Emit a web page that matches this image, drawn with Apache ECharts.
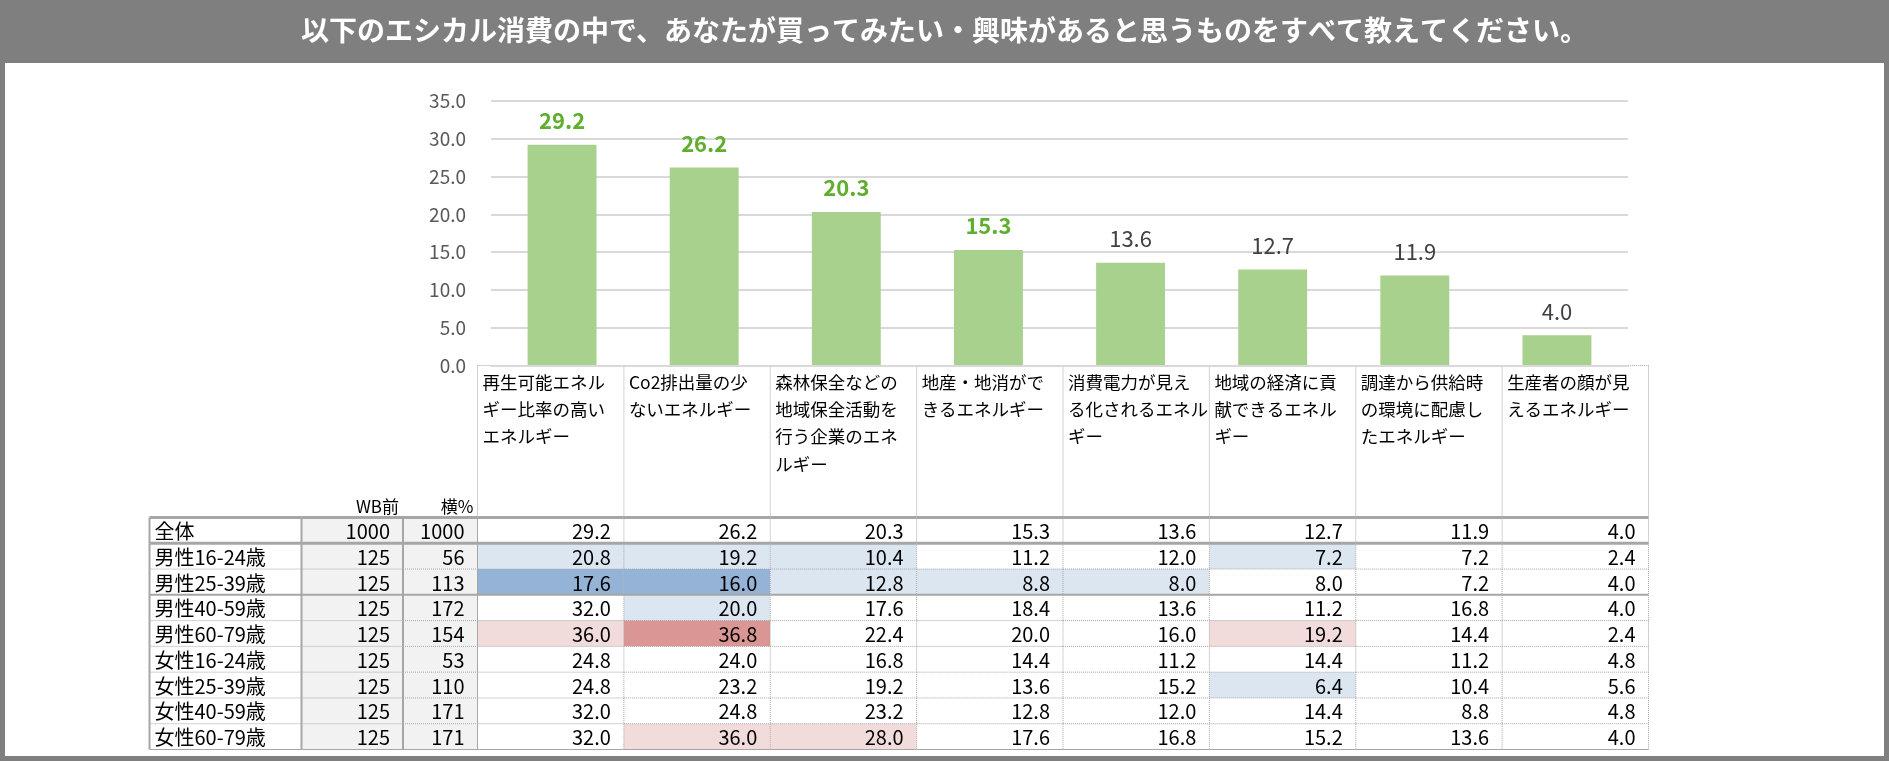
<!DOCTYPE html>
<html>
<head>
<meta charset="utf-8">
<script src="https://cdn.jsdelivr.net/npm/echarts@6/dist/echarts.min.js"></script>
<style>
    html, body { margin: 0; padding: 0; background: #7f7f7f; }
    #chart { width: 1889px; height: 761px; }
</style>
</head>
<body>
<div id="chart"></div>
<script>
const FONT = '"Noto Sans CJK JP", "Noto Sans", sans-serif';

const titleText = '以下のエシカル消費の中で、あなたが買ってみたい・興味があると思うものをすべて教えてください。';

// column headers (line breaks as in the source sheet)
const categories = [
    '再生可能エネル\nギー比率の高い\nエネルギー',
    'Co2排出量の少\nないエネルギー',
    '森林保全などの\n地域保全活動を\n行う企業のエネ\nルギー',
    '地産・地消がで\nきるエネルギー',
    '消費電力が見え\nる化されるエネル\nギー',
    '地域の経済に貢\n献できるエネル\nギー',
    '調達から供給時\nの環境に配慮し\nたエネルギー',
    '生産者の顔が見\nえるエネルギー'
];

// 全体 (also drawn as bars)
const totalValues = [29.2, 26.2, 20.3, 15.3, 13.6, 12.7, 11.9, 4.0];
const topN = 4;

const yTicks = { min: 0, max: 35, interval: 5 };

const rowLabels = [
    '全体', '男性16-24歳', '男性25-39歳', '男性40-59歳', '男性60-79歳',
    '女性16-24歳', '女性25-39歳', '女性40-59歳', '女性60-79歳'
];
const leftHeaders = ['WB前', '横%'];
const wbBase = [1000, 125, 125, 125, 125, 125, 125, 125, 125];
const yokoBase = [1000, 56, 113, 172, 154, 53, 110, 171, 171];

const tableValues = [
    totalValues,
    [20.8, 19.2, 10.4, 11.2, 12.0, 7.2, 7.2, 2.4],
    [17.6, 16.0, 12.8, 8.8, 8.0, 8.0, 7.2, 4.0],
    [32.0, 20.0, 17.6, 18.4, 13.6, 11.2, 16.8, 4.0],
    [36.0, 36.8, 22.4, 20.0, 16.0, 19.2, 14.4, 2.4],
    [24.8, 24.0, 16.8, 14.4, 11.2, 14.4, 11.2, 4.8],
    [24.8, 23.2, 19.2, 13.6, 15.2, 6.4, 10.4, 5.6],
    [32.0, 24.8, 23.2, 12.8, 12.0, 14.4, 8.8, 4.8],
    [32.0, 36.0, 28.0, 17.6, 16.8, 15.2, 13.6, 4.0]
];

// 0 none, 1 low, 2 much lower, 3 high, 4 much higher
const cellMarks = [
    [0, 0, 0, 0, 0, 0, 0, 0],
    [1, 1, 1, 0, 0, 1, 0, 0],
    [2, 2, 1, 1, 1, 0, 0, 0],
    [0, 1, 0, 0, 0, 0, 0, 0],
    [3, 4, 0, 0, 0, 3, 0, 0],
    [0, 0, 0, 0, 0, 0, 0, 0],
    [0, 0, 0, 0, 0, 1, 0, 0],
    [0, 0, 0, 0, 0, 0, 0, 0],
    [0, 3, 3, 0, 0, 0, 0, 0]
];

const markFill = ['#ffffff', '#dce6f1', '#95b3d7', '#f2dcdb', '#da9694'];

const LINE = '#a6a6a6';
const DOT = [1, 1];
const RULE = {
    thick: { w: 3 },
    solid: { w: 2 },
    thin: { w: 1 },
    dot: { w: 1, dash: DOT }
};

function rowBottomRule (r) {
    if (r === 0) return RULE.thick;
    if (r === 2) return RULE.solid;
    if (r === rowLabels.length - 1) return RULE.thin;
    return RULE.dot;
}

function seg (x1, y1, x2, y2, rule) {
    return {
        type: 'line',
        shape: { x1: x1, y1: y1, x2: x2, y2: y2 },
        style: { stroke: LINE, lineWidth: rule.w, lineDash: rule.dash || null }
    };
}

function cellBox (api) {
    let c = api.value(0), r = api.value(1);
    let p = api.coord([c, r]);
    let s = api.size([1, 1]);
    return {
        c: c, r: r, cy: p[1],
        x0: p[0] - s[0] / 2, x1: p[0] + s[0] / 2,
        y0: p[1] - s[1] / 2, y1: p[1] + s[1] / 2
    };
}

function rulesRenderer (rightRule, leftRule) {
    return function (params, api) {
        let b = cellBox(api);
        let kids = [seg(b.x0, b.y1, b.x1, b.y1, rowBottomRule(b.r))];
        if (b.r === 0) kids.push(seg(b.x0, b.y0, b.x1, b.y0, RULE.thick));
        if (rightRule) kids.push(seg(b.x1, b.y0, b.x1, b.y1, rightRule));
        if (leftRule && b.c === 0) kids.push(seg(b.x0, b.y0, b.x0, b.y1, leftRule));
        return { type: 'group', children: kids };
    };
}

function textStyle (text, x, y, align, size) {
    return {
        text: text, x: x, y: y, align: align, verticalAlign: 'middle',
        fontFamily: FONT, fontSize: size || 20, fill: '#000'
    };
}

// data for the table grids
const cellData = [];
tableValues.forEach((row, r) => row.forEach((v, c) => cellData.push([c, r, v, cellMarks[r][c]])));
const labelData = rowLabels.map((_, r) => [0, r]);
const wbData = wbBase.map((v, r) => [0, r, v]);
const yokoData = yokoBase.map((v, r) => [0, r, v]);
const headData = categories.map((_, i) => [i, 1]);

function numberColumn (gridIndex, data, header) {
    return [{
        type: 'custom',
        xAxisIndex: gridIndex, yAxisIndex: gridIndex,
        z: 2,
        silent: true,
        data: data,
        renderItem: function (params, api) {
            let b = cellBox(api);
            let kids = [
                { type: 'rect', shape: { x: b.x0, y: b.y0, width: b.x1 - b.x0, height: b.y1 - b.y0 }, style: { fill: '#f2f2f2' } },
                { type: 'text', style: textStyle(String(api.value(2)), b.x1 - 13, b.cy + 1, 'right') }
            ];
            if (b.r === 0) {
                kids.push({ type: 'text', style: textStyle(header, b.x1 - 4, b.y0 - 11, 'right', 17) });
            }
            return { type: 'group', children: kids };
        }
    }];
}

const chart = echarts.init(document.getElementById('chart'));

const axisGrids = [
    { left: 491, top: 101, width: 1137, height: 264.5 },      // bars
    { left: 477.5, top: 365.5, width: 1171, height: 152 },    // column headers
    { left: 477.5, top: 517.5, width: 1171, height: 232 },    // table values
    { left: 149.5, top: 517.5, width: 152, height: 232 },     // row labels
    { left: 301.5, top: 517.5, width: 101.5, height: 232 },   // WB前
    { left: 403, top: 517.5, width: 74.5, height: 232 }       // 横%
];

const hiddenCat = (gridIndex, data, inverse) => ({
    type: 'category', gridIndex: gridIndex, data: data, inverse: !!inverse, show: false
});

chart.setOption({
    backgroundColor: '#7f7f7f',
    animation: false,
    title: {
        text: titleText,
        left: 'center',
        top: 16,
        padding: 0,
        textStyle: { color: '#ffffff', fontSize: 28, fontWeight: 'bold', fontFamily: FONT }
    },
    graphic: [{
        type: 'rect',
        z: -10,
        shape: { x: 5, y: 63, width: 1879, height: 693 },
        style: { fill: '#ffffff' }
    }],
    grid: axisGrids.map(g => Object.assign({ containLabel: false, outerBoundsMode: 'none' }, g)),
    xAxis: [
        {
            type: 'category',
            gridIndex: 0,
            data: categories,
            z: 5,
            axisLine: { lineStyle: { color: '#d9d9d9', width: 2 } },
            axisTick: { show: false },
            axisLabel: { show: false }
        },
        hiddenCat(1, categories),
        hiddenCat(2, categories),
        hiddenCat(3, ['label']),
        hiddenCat(4, [leftHeaders[0]]),
        hiddenCat(5, [leftHeaders[1]])
    ],
    yAxis: [
        {
            type: 'value',
            gridIndex: 0,
            min: yTicks.min,
            max: yTicks.max,
            interval: yTicks.interval,
            axisLine: { show: false },
            axisTick: { show: false },
            axisLabel: {
                margin: 25,
                color: '#595959',
                fontSize: 19,
                fontFamily: FONT,
                formatter: v => v.toFixed(1)
            },
            splitLine: { lineStyle: { color: '#d9d9d9', width: 2 } }
        },
        { type: 'value', gridIndex: 1, min: 0, max: 1, show: false },
        hiddenCat(2, rowLabels, true),
        hiddenCat(3, rowLabels, true),
        hiddenCat(4, rowLabels, true),
        hiddenCat(5, rowLabels, true)
    ],
    series: [
        {
            name: '全体',
            type: 'bar',
            xAxisIndex: 0, yAxisIndex: 0,
            barWidth: '48.5%',
            itemStyle: { color: '#a9d18e' },
            label: {
                show: true,
                position: 'top',
                distance: 13,
                color: '#404040',
                fontSize: 22,
                fontFamily: FONT,
                formatter: p => p.value.toFixed(1)
            },
            data: totalValues.map((v, i) => ({
                value: v,
                label: i < topN ? { color: '#5fae2e', fontWeight: 'bold' } : {}
            }))
        },
        {
            // column headers
            type: 'custom',
            xAxisIndex: 1, yAxisIndex: 1,
            z: 2,
            silent: true,
            data: headData,
            renderItem: function (params, api) {
                let i = api.value(0);
                let top = api.coord([i, 1]);
                let bottom = api.coord([i, 0]);
                let w = api.size([1, 0])[0];
                let x0 = top[0] - w / 2, x1 = top[0] + w / 2;
                let kids = [
                    seg(x0, top[1], x1, top[1], RULE.dot),
                    seg(x1, top[1], x1, bottom[1], RULE.dot),
                    {
                        type: 'text',
                        style: {
                            text: categories[i], x: x0 + 5, y: top[1] + 3,
                            align: 'left', verticalAlign: 'top', lineHeight: 27.3,
                            fontFamily: FONT, fontSize: 17.5, fill: '#000'
                        }
                    }
                ];
                if (i === 0) kids.push(seg(x0, top[1], x0, bottom[1], RULE.dot));
                return { type: 'group', children: kids };
            }
        },
        {
            // table cells
            type: 'custom',
            xAxisIndex: 2, yAxisIndex: 2,
            z: 2,
            silent: true,
            data: cellData,
            renderItem: function (params, api) {
                let b = cellBox(api);
                return {
                    type: 'group',
                    children: [
                        { type: 'rect', shape: { x: b.x0, y: b.y0, width: b.x1 - b.x0, height: b.y1 - b.y0 }, style: { fill: markFill[api.value(3)] } },
                        { type: 'text', style: textStyle(api.value(2).toFixed(1), b.x1 - 13, b.cy + 1, 'right') }
                    ]
                };
            }
        },
        {
            type: 'custom',
            xAxisIndex: 2, yAxisIndex: 2,
            z: 3,
            silent: true,
            data: cellData,
            renderItem: rulesRenderer(RULE.dot, null)
        },
        {
            // row labels
            type: 'custom',
            xAxisIndex: 3, yAxisIndex: 3,
            z: 2,
            silent: true,
            data: labelData,
            renderItem: function (params, api) {
                let b = cellBox(api);
                return {
                    type: 'text',
                    style: textStyle(rowLabels[b.r], b.x0 + 5, b.cy + 1, 'left')
                };
            }
        },
        {
            type: 'custom',
            xAxisIndex: 3, yAxisIndex: 3,
            z: 3,
            silent: true,
            data: labelData,
            renderItem: rulesRenderer(RULE.solid, RULE.solid)
        },
        ...numberColumn(4, wbData, leftHeaders[0]),
        {
            type: 'custom',
            xAxisIndex: 4, yAxisIndex: 4,
            z: 3,
            silent: true,
            data: wbData,
            renderItem: rulesRenderer(RULE.solid, null)
        },
        ...numberColumn(5, yokoData, leftHeaders[1]),
        {
            type: 'custom',
            xAxisIndex: 5, yAxisIndex: 5,
            z: 3,
            silent: true,
            data: yokoData,
            renderItem: rulesRenderer(RULE.thin, null)
        }
    ]
});
</script>
</body>
</html>
